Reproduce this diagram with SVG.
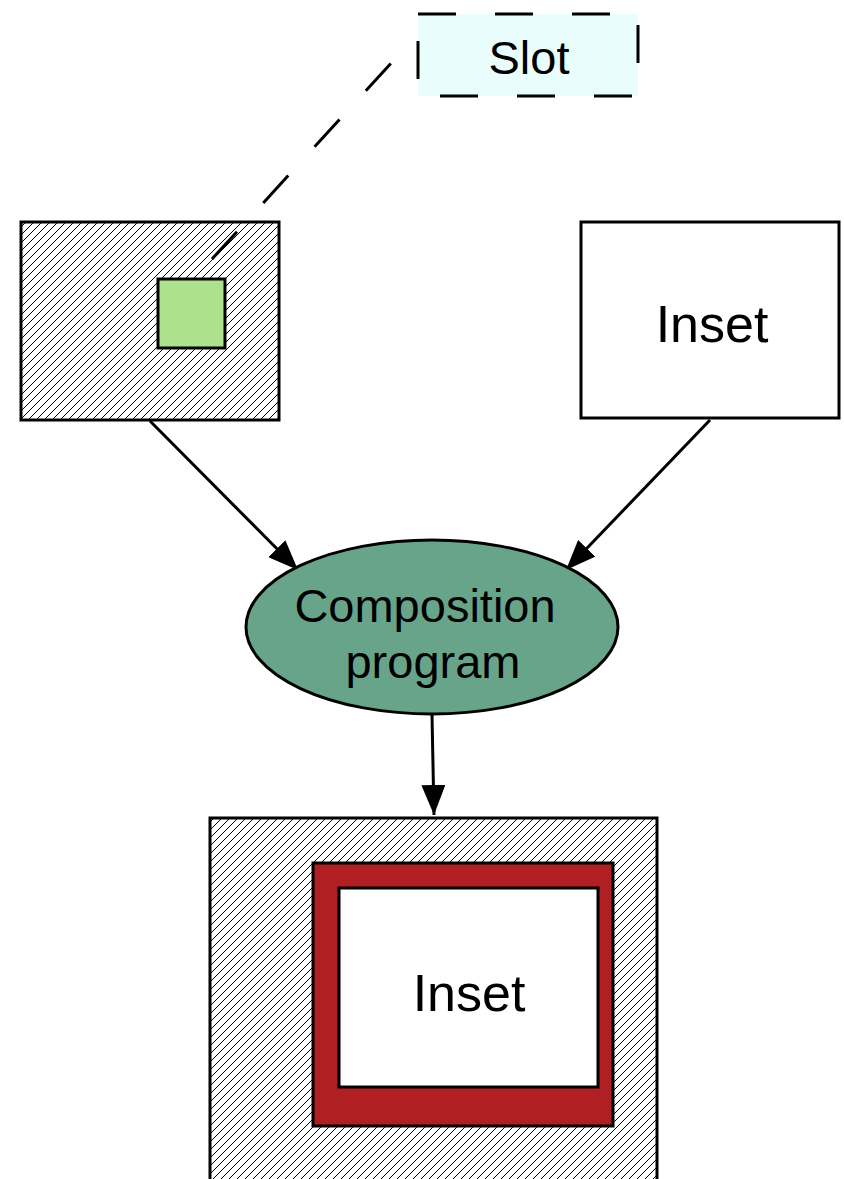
<svg xmlns="http://www.w3.org/2000/svg" width="844" height="1179" viewBox="0 0 844 1179">
  <defs>
    <pattern id="hatch" patternUnits="userSpaceOnUse" width="8" height="8">
      <path d="M-2,2 L2,-2 M0,8 L8,0 M6,10 L10,6" stroke="#000" stroke-width="1"/>
    </pattern>
    <marker id="arrow" markerWidth="30" markerHeight="24" refX="30" refY="12" orient="auto" markerUnits="userSpaceOnUse">
      <path d="M0,0 L30,12 L0,24 Z" fill="#000"/>
    </marker>
  </defs>
  <style>
    .box { stroke: #000; stroke-width: 3; }
    .lbl { font-family: "Liberation Sans", Arial, sans-serif; fill: #000; text-anchor: middle; }
    .edge { stroke: #000; stroke-width: 3; fill: none; }
  </style>
  <rect width="844" height="1179" fill="#fff"/>

  <g id="connectors">
    <path class="edge" d="M212,259 L393,61" stroke-dasharray="37,39"/>
    <path class="edge" d="M150,421 L298,570" marker-end="url(#arrow)"/>
    <path class="edge" d="M710,420 L566,570" marker-end="url(#arrow)"/>
    <path class="edge" d="M432,715 L434,815" marker-end="url(#arrow)"/>
  </g>

  <g id="slot-label">
    <rect x="418" y="14" width="220" height="82" fill="#e9fdfd" stroke="#000" stroke-width="3" stroke-dasharray="38,39"/>
    <text class="lbl" x="529" y="74" font-size="47">Slot</text>
  </g>

  <g id="host-frame">
    <rect class="box" x="21" y="222" width="258" height="198" fill="url(#hatch)"/>
    <rect class="box" x="158" y="279" width="67" height="69" fill="#abe28b"/>
  </g>

  <g id="inset-source">
    <rect class="box" x="581" y="222" width="258" height="196" fill="#fff"/>
    <text class="lbl" x="712" y="342" font-size="52">Inset</text>
  </g>

  <g id="composition">
    <ellipse cx="432" cy="627" rx="186" ry="87" fill="#68a48a" stroke="#000" stroke-width="3"/>
    <text class="lbl" x="425" y="622" font-size="47">Composition</text>
    <text class="lbl" x="433" y="678" font-size="47">program</text>
  </g>

  <g id="result">
    <rect class="box" x="210" y="818" width="447" height="380" fill="url(#hatch)"/>
    <rect class="box" x="313" y="863" width="300" height="263" fill="#b01f24"/>
    <rect class="box" x="339" y="888" width="259" height="199" fill="#fff"/>
    <text class="lbl" x="469" y="1011" font-size="52">Inset</text>
  </g>
</svg>
